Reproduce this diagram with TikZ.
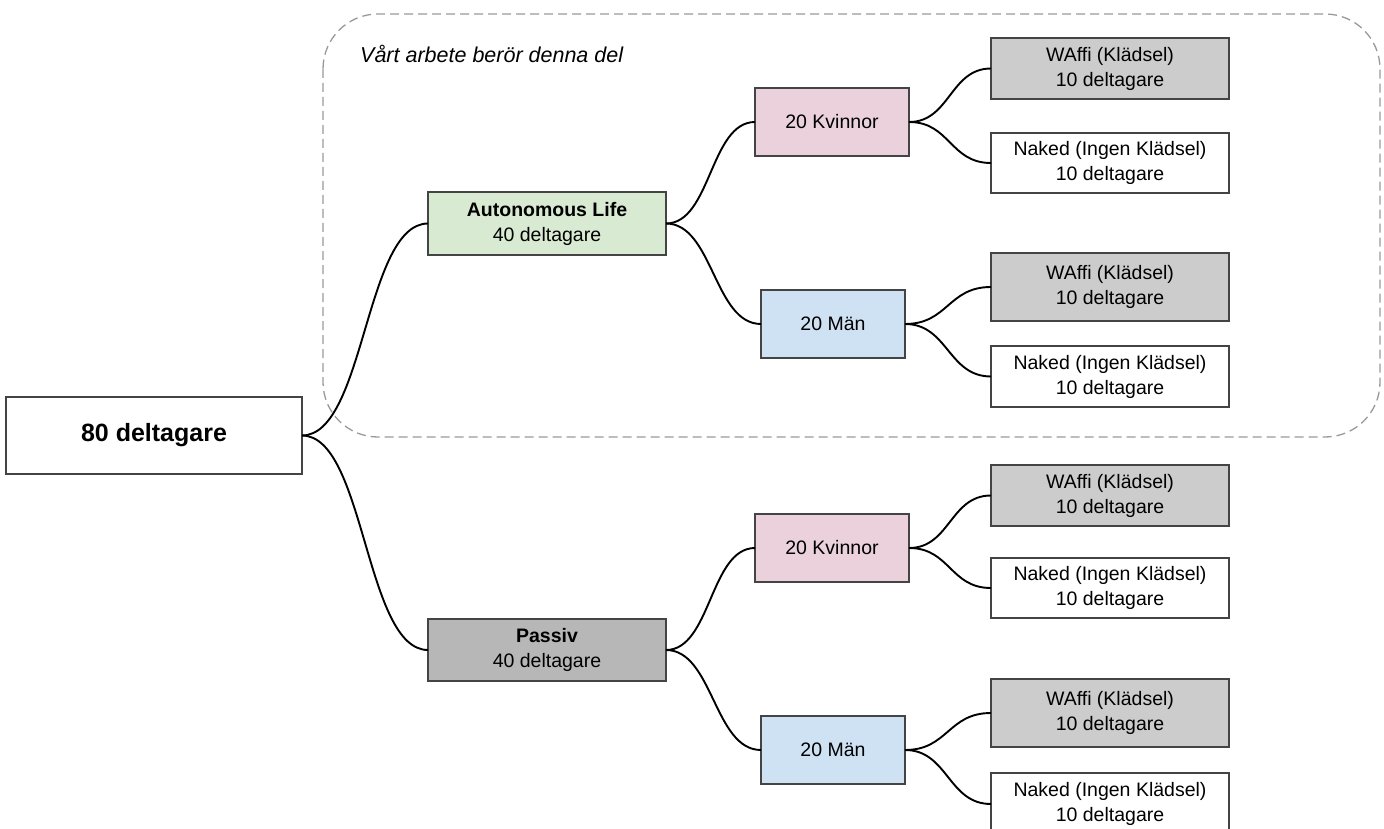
\documentclass[tikz,border=0pt]{standalone}
\usepackage{fontspec}
\setmainfont{Liberation Sans}
\definecolor{bordc}{HTML}{444444}
\definecolor{leafgray}{HTML}{CCCCCC}
\definecolor{pasgray}{HTML}{B7B7B7}
\definecolor{greenf}{HTML}{D9EAD3}
\definecolor{pinkf}{HTML}{EAD1DC}
\definecolor{bluef}{HTML}{CFE2F3}
\definecolor{dashc}{HTML}{999999}
\begin{document}
\begin{tikzpicture}[x=1pt,y=-1pt,
  box/.style={draw=bordc, line width=1.2pt, inner sep=0pt, outer sep=0pt, align=center,
    font=\fontsize{19.5}{25}\selectfont},
  leaf/.style={box, minimum width=238pt},
  conn/.style={draw=black, line width=1.9pt},
  region/.style={draw=dashc, line width=1.3pt, dash pattern=on 9pt off 5pt, rounded corners=55pt}]
\useasboundingbox (0,0) rectangle (1384,829);
\clip (0,0) rectangle (1384,829);

\draw[region] (323,14) rectangle (1380,437);
\node[anchor=base west, inner sep=0pt, font=\fontsize{21.5}{25}\selectfont\itshape] (title) at (360,63) {Vårt arbete berör denna del};

\node[box, fill=white, minimum width=296pt, minimum height=77pt, font=\fontsize{25}{30}\selectfont\bfseries] (root) at (154,435.5) {80 deltagare};

\node[box, fill=greenf, minimum width=238pt, minimum height=63pt] (auto) at (547,223.5) {\textbf{Autonomous Life}\\40 deltagare};
\node[box, fill=pasgray, minimum width=238pt, minimum height=62pt] (pas) at (547,650) {\textbf{Passiv}\\40 deltagare};

\node[box, fill=pinkf, minimum width=154pt, minimum height=68pt] (kv1) at (832,122) {20 Kvinnor};
\node[box, fill=bluef, minimum width=144pt, minimum height=68pt] (man1) at (833,324) {20 Män};
\node[box, fill=pinkf, minimum width=154pt, minimum height=68pt] (kv2) at (832,548) {20 Kvinnor};
\node[box, fill=bluef, minimum width=144pt, minimum height=68pt] (man2) at (833,750) {20 Män};

\node[leaf, fill=leafgray, minimum height=61pt] (w1) at (1110,68.5) {WAffi (Klädsel)\\10 deltagare};
\node[leaf, fill=white, minimum height=60pt] (n1) at (1110,163) {Naked (Ingen Klädsel)\\10 deltagare};
\node[leaf, fill=leafgray, minimum height=68pt] (w2) at (1110,287) {WAffi (Klädsel)\\10 deltagare};
\node[leaf, fill=white, minimum height=61pt] (n2) at (1110,376.5) {Naked (Ingen Klädsel)\\10 deltagare};
\node[leaf, fill=leafgray, minimum height=61pt] (w3) at (1110,495.5) {WAffi (Klädsel)\\10 deltagare};
\node[leaf, fill=white, minimum height=60pt] (n3) at (1110,588) {Naked (Ingen Klädsel)\\10 deltagare};
\node[leaf, fill=leafgray, minimum height=68pt] (w4) at (1110,713) {WAffi (Klädsel)\\10 deltagare};
\node[leaf, fill=white, minimum height=62pt] (n4) at (1110,804) {Naked (Ingen Klädsel)\\10 deltagare};

\draw[conn] (root.east) .. controls +(63,0) and +(-63,0) .. (auto.west);
\draw[conn] (root.east) .. controls +(63,0) and +(-63,0) .. (pas.west);
\draw[conn] (auto.east) .. controls +(45,0) and +(-45,0) .. (kv1.west);
\draw[conn] (auto.east) .. controls +(47,0) and +(-47,0) .. (man1.west);
\draw[conn] (pas.east) .. controls +(45,0) and +(-45,0) .. (kv2.west);
\draw[conn] (pas.east) .. controls +(47,0) and +(-47,0) .. (man2.west);
\draw[conn] (kv1.east) .. controls +(41,0) and +(-41,0) .. (w1.west);
\draw[conn] (kv1.east) .. controls +(41,0) and +(-41,0) .. (n1.west);
\draw[conn] (man1.east) .. controls +(43,0) and +(-43,0) .. (w2.west);
\draw[conn] (man1.east) .. controls +(43,0) and +(-43,0) .. (n2.west);
\draw[conn] (kv2.east) .. controls +(41,0) and +(-41,0) .. (w3.west);
\draw[conn] (kv2.east) .. controls +(41,0) and +(-41,0) .. (n3.west);
\draw[conn] (man2.east) .. controls +(43,0) and +(-43,0) .. (w4.west);
\draw[conn] (man2.east) .. controls +(43,0) and +(-43,0) .. (n4.west);
\end{tikzpicture}
\end{document}
